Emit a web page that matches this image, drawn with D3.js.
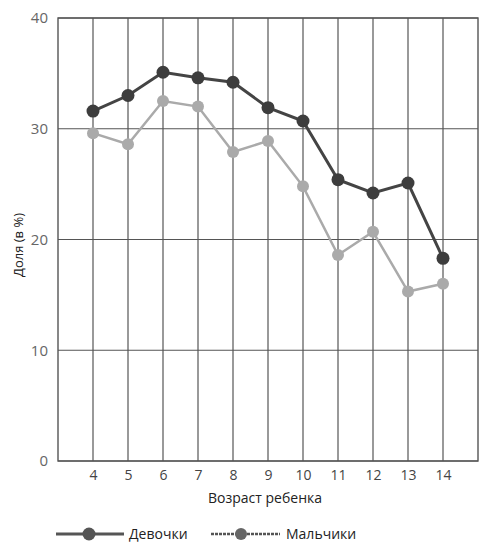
<!DOCTYPE html>
<html>
<head>
<meta charset="utf-8">
<script src="https://cdn.jsdelivr.net/npm/d3@7"></script>
<style>
  body { margin: 0; background: #fff; }
  text { font-family: "Open Sans", sans-serif; }
</style>
</head>
<body>
<div id="chart"></div>
<script>
// ages on the x axis
var ages = [4, 5, 6, 7, 8, 9, 10, 11, 12, 13, 14];
// share in percent
var girls = [31.6, 33.0, 35.1, 34.6, 34.2, 31.9, 30.7, 25.4, 24.2, 25.1, 18.3];
var boys = [29.6, 28.6, 32.5, 32.0, 27.9, 28.9, 24.8, 18.6, 20.7, 15.3, 16.0];
var yTicks = [0, 10, 20, 30, 40];
var seriesNames = ["Девочки", "Мальчики"];

var width = 500, height = 556;
var margin = { top: 18, right: 22, bottom: 95, left: 58 };

var svg = d3.select("#chart")
    .append("svg")
    .attr("width", width)
    .attr("height", height);

var x = d3.scaleLinear()
    .domain([3, 15])
    .range([margin.left, width - margin.right]);

var y = d3.scaleLinear()
    .domain([0, 40])
    .range([height - margin.bottom, margin.top]);

var gridColor = "#555";

// vertical grid lines
svg.append("g")
    .selectAll("line")
    .data(ages)
    .enter()
    .append("line")
    .attr("x1", function (d) { return x(d); })
    .attr("x2", function (d) { return x(d); })
    .attr("y1", y(0))
    .attr("y2", y(40))
    .attr("stroke", gridColor)
    .attr("stroke-width", 1.2);

// horizontal grid lines
svg.append("g")
    .selectAll("line")
    .data(yTicks)
    .enter()
    .append("line")
    .attr("x1", x(3))
    .attr("x2", x(15))
    .attr("y1", function (d) { return y(d); })
    .attr("y2", function (d) { return y(d); })
    .attr("stroke", gridColor)
    .attr("stroke-width", 1.2);

// frame
svg.append("rect")
    .attr("x", x(3))
    .attr("y", y(40))
    .attr("width", x(15) - x(3))
    .attr("height", y(0) - y(40))
    .attr("fill", "none")
    .attr("stroke", gridColor)
    .attr("stroke-width", 1.4);

// y axis labels
var yAxis = svg.append("g")
    .attr("transform", "translate(" + x(3) + ",0)")
    .call(d3.axisLeft(y).tickValues(yTicks).tickSize(0).tickPadding(10));
yAxis.select(".domain").remove();
yAxis.selectAll("text")
    .attr("font-size", 15)
    .attr("fill", "#666")
    .style("font-family", "'Open Sans', sans-serif");

// x axis labels
var xAxis = svg.append("g")
    .attr("transform", "translate(0," + y(0) + ")")
    .call(d3.axisBottom(x).tickValues(ages).tickFormat(d3.format("d")).tickSize(0).tickPadding(9));
xAxis.select(".domain").remove();
xAxis.selectAll("text")
    .attr("font-size", 14)
    .attr("fill", "#444")
    .style("font-family", "'Open Sans', sans-serif");

// axis titles
svg.append("text")
    .attr("x", 265)
    .attr("y", 503)
    .attr("text-anchor", "middle")
    .attr("font-size", 14)
    .attr("fill", "#222")
    .text("Возраст ребенка");

svg.append("text")
    .attr("transform", "translate(23,245) rotate(-90)")
    .attr("text-anchor", "middle")
    .attr("font-size", 13)
    .attr("fill", "#222")
    .text("Доля (в %)");

var line = d3.line()
    .x(function (d, i) { return x(ages[i]); })
    .y(function (d) { return y(d); });

// boys line
svg.append("path")
    .datum(boys)
    .attr("fill", "none")
    .attr("stroke", "#aaa")
    .attr("stroke-width", 2.5)
    .attr("d", line);
svg.append("g")
    .selectAll("circle")
    .data(boys)
    .enter()
    .append("circle")
    .attr("cx", function (d, i) { return x(ages[i]); })
    .attr("cy", function (d) { return y(d); })
    .attr("r", 6)
    .attr("fill", "#aaa");

// girls line
svg.append("path")
    .datum(girls)
    .attr("fill", "none")
    .attr("stroke", "#444")
    .attr("stroke-width", 3)
    .attr("d", line);
svg.append("g")
    .selectAll("circle")
    .data(girls)
    .enter()
    .append("circle")
    .attr("cx", function (d, i) { return x(ages[i]); })
    .attr("cy", function (d) { return y(d); })
    .attr("r", 6.5)
    .attr("fill", "#3d3d3d");

// legend
var legend = svg.append("g").attr("transform", "translate(0,534)");

legend.append("line")
    .attr("x1", 56).attr("x2", 124)
    .attr("stroke", "#555").attr("stroke-width", 3);
legend.append("circle")
    .attr("cx", 89).attr("r", 6.5).attr("fill", "#555");
legend.append("text")
    .attr("x", 129).attr("y", 5)
    .attr("font-size", 14).attr("fill", "#222")
    .text(seriesNames[0]);

legend.append("line")
    .attr("x1", 211).attr("x2", 280)
    .attr("stroke", "#555").attr("stroke-width", 2.5)
    .attr("stroke-dasharray", "3,1");
legend.append("circle")
    .attr("cx", 241).attr("r", 6).attr("fill", "#666");
legend.append("text")
    .attr("x", 286).attr("y", 5)
    .attr("font-size", 14).attr("fill", "#222")
    .text(seriesNames[1]);
</script>
</body>
</html>
